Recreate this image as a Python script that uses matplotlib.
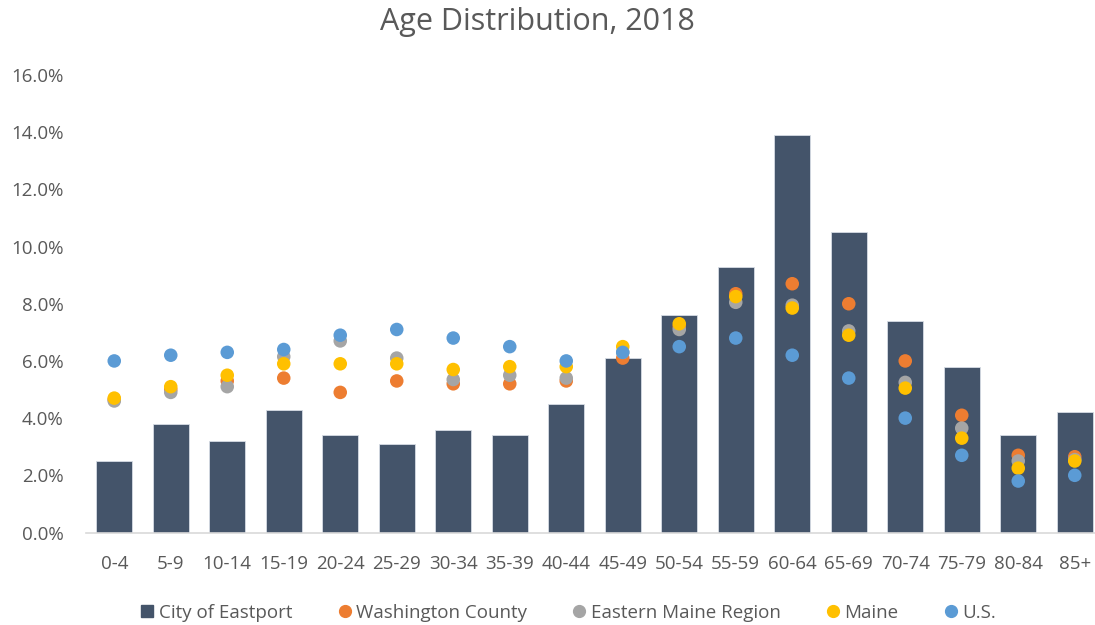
import matplotlib.pyplot as plt
from matplotlib.lines import Line2D
from matplotlib.ticker import FuncFormatter

# age groups and shares (%)
age_groups = ['0-4', '5-9', '10-14', '15-19', '20-24', '25-29', '30-34', '35-39', '40-44',
              '45-49', '50-54', '55-59', '60-64', '65-69', '70-74', '75-79', '80-84', '85+']
eastport = [2.5, 3.8, 3.2, 4.3, 3.4, 3.1, 3.6, 3.4, 4.5,
            6.1, 7.6, 9.3, 13.9, 10.5, 7.4, 5.8, 3.4, 4.2]
washington = [4.65, 5.0, 5.3, 5.4, 4.9, 5.3, 5.2, 5.2, 5.3,
              6.1, 7.2, 8.35, 8.7, 8.0, 6.0, 4.1, 2.7, 2.65]
eastern_maine = [4.6, 4.9, 5.1, 6.15, 6.7, 6.1, 5.35, 5.5, 5.4,
                 6.3, 7.1, 8.05, 7.95, 7.05, 5.25, 3.65, 2.5, 2.55]
maine = [4.7, 5.1, 5.5, 5.9, 5.9, 5.9, 5.7, 5.8, 5.8,
         6.5, 7.3, 8.25, 7.85, 6.9, 5.05, 3.3, 2.25, 2.5]
us = [6.0, 6.2, 6.3, 6.4, 6.9, 7.1, 6.8, 6.5, 6.0,
      6.3, 6.5, 6.8, 6.2, 5.4, 4.0, 2.7, 1.8, 2.0]

series = [
    ('Washington County', washington, '#ED7D31'),
    ('Eastern Maine Region', eastern_maine, '#A5A5A5'),
    ('Maine', maine, '#FFC000'),
    ('U.S.', us, '#5B9BD5'),
]
bar_color = '#44546A'
text_color = '#595959'

plt.rcParams['font.family'] = ['Open Sans', 'DejaVu Sans']

fig = plt.figure(figsize=(10.95, 6.25), dpi=100)
# plot area runs past the right edge, like the cropped original
ax = fig.add_axes([86 / 1095, (625 - 532.5) / 625, (1103 - 86) / 1095, (532.5 - 75) / 625])

x = list(range(len(age_groups)))
ax.bar(x, eastport, width=0.64, color=bar_color, edgecolor='#D6DCE4', linewidth=0.6, zorder=2)
for name, vals, col in series:
    ax.scatter(x, vals, s=95, color=col, edgecolors='none', zorder=3)

ax.set_xlim(-0.5, len(age_groups) - 0.5)
ax.set_ylim(0, 16)
ax.set_yticks([0, 2, 4, 6, 8, 10, 12, 14, 16])
ax.yaxis.set_major_formatter(FuncFormatter(lambda v, p: f'{v:.1f}%'))
ax.set_xticks(x)
ax.set_xticklabels(age_groups)

for s in ['top', 'right', 'left']:
    ax.spines[s].set_visible(False)
ax.spines['bottom'].set_color('#D9D9D9')
ax.spines['bottom'].set_linewidth(1.2)
ax.tick_params(axis='both', length=0, labelsize=13.5, colors=text_color)
ax.tick_params(axis='y', pad=16)
ax.tick_params(axis='x', pad=16)

fig.text(537 / 1095, 1 - 22 / 625, 'Age Distribution, 2018', ha='center', va='center',
         fontsize=22, color=text_color)

handles = [Line2D([], [], marker='s', linestyle='none', color=bar_color, markersize=8.5)]
labels = ['City of Eastport']
for name, vals, col in series:
    handles.append(Line2D([], [], marker='o', linestyle='none', color=col, markersize=8.5))
    labels.append(name)
leg = fig.legend(handles, labels, loc='center', bbox_to_anchor=(567 / 1095, 12 / 625), ncol=5,
                 frameon=False, fontsize=13.5, handletextpad=0.1, columnspacing=2.3,
                 handlelength=1.0)
for t in leg.get_texts():
    t.set_color(text_color)

plt.savefig('out.png', dpi=100)
